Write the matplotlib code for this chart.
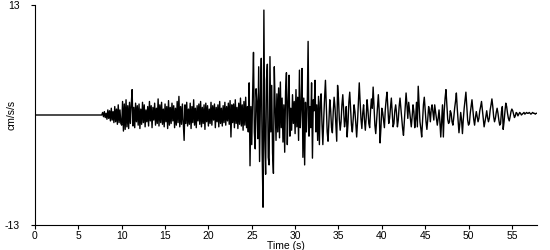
import numpy as np
import matplotlib
matplotlib.use("Agg")
import matplotlib.pyplot as plt

# record starts at t_start, one sample every dt seconds; before that the trace is flat
t_start = 7.7
dt = 0.1

# cm/s/s
onset = [0.0, 0.3, -0.2, 0.4, -0.3, 0.2, -0.5, 0.6, -0.4, 0.5, -0.7, 0.8,
         -0.6, 0.4, -0.9, 1.0, -0.8, 0.7, -1.1, 1.2, -0.9, 0.6, -1.0]

s_waves = [
    -1.2, 1.6, -1.9, 1.3, -1.7, 1.8, -1.4, 1.1, -1.6, 1.5,
    -1.0, 1.2, 3.0, -1.3, 0.9, -1.5, 1.4, -0.8, 1.1, -1.2,
    1.3, -1.6, 0.7, -1.1, 1.5, -0.9, 1.2, -1.4, 0.6, -0.8,
    1.0, -1.3, 1.6, -0.7, 1.1, -1.5, 0.9, -0.6, 1.4, -1.2,
    0.8, -1.0, 1.9, -1.3, 1.2, -0.9, 1.5, -1.1, 0.7, -1.4,
    1.3, -0.8, 1.0, -1.6, 1.7, -1.2, 0.9, -1.0, 1.4, -0.7,
    1.1, -1.5, 0.8, -1.2, 1.6, -0.9, 2.2, -1.4, 1.0, -1.1,
    1.3, -0.8, -3.0, 1.2, -1.0, 1.5, -1.3, 0.7, -1.1, 1.4,
    -1.6, 1.0, -0.9, 1.8, -1.2, 0.8, -1.5, 1.1, -0.7, 1.3,
    -1.1, 1.6, -1.4, 0.9, -1.0, 1.2, -1.7, 1.4, -0.8, 1.1,
    -1.3, 0.7, -1.0, 1.5, -1.2, 1.1, -0.6, 1.3, -1.5, 0.9,
    -0.8, 1.2, -1.4, 1.6, -1.0, 0.8, -1.3, 1.1, -0.9, 1.5,
    -1.2, 1.0, -0.7, 1.4, -1.1, 1.7, -2.6, 1.2, -0.9, 1.3,
    -1.5, 1.8, -1.0, 0.9, -1.6, 1.4, -1.1, 2.0, -1.3, 1.2,
    -1.8, 1.6, -1.2, 2.1, -1.5, 1.0, -2.0, 3.8, -6.0, 1.0,
]

main_shock = [
    -3.5, 2.4, 7.4, -2.0, -4.0, 3.1, 1.5, -2.8, 5.7, -5.5,
    2.0, 6.7, -4.5, -10.9, 12.4, -3.0, -7.0, 4.2, 6.0, -5.0,
    -5.9, 6.9, -2.0, 3.5, -4.5, -6.9, 5.7, 1.0, -3.0, 2.5,
    -2.0, 3.2, -2.7, 3.9, -1.5, 2.0, -3.2, 1.2, -4.4, 2.8,
    5.0, -3.5, 1.5, 4.7, -2.5, 0.8, -1.8, 2.4, -1.0, 1.6,
    -2.2, 3.0, -1.4, 2.1, -3.0, 5.3, -1.5, 1.0, 5.5, -5.0,
    2.0, -5.9, 1.5, -2.0, 0.9, 8.7, -2.5, 1.0, -1.5, 3.8,
    -5.1, 1.8, 0.5, 4.1, -2.0, 1.2, -3.0, 2.2, -3.5, 1.5,
]

coda = [
    2.5, -1.0, -3.5, -0.5, 2.0, 4.1, 1.0, -2.0, -3.1, -0.8,
    1.8, 0.6, -1.5, -2.1, 0.4, 2.1, 0.9, -1.2, -3.1, 3.5,
    2.0, -0.5, -1.8, -0.8, 1.2, 2.4, 0.6, -1.4, -0.6, 1.0,
    -2.6, -1.0, 1.5, 2.7, 0.8, -1.2, -2.0, -0.5, 1.2, 0.4,
    -1.0, -2.6, -0.8, 1.5, 3.8, 1.5, -0.5, -1.6, 0.2, 1.2,
    -0.6, -1.8, -0.3, 1.8, 0.6, -1.0, -1.5, 0.5, 1.9, 0.8,
    3.3, 1.0, -1.2, -2.2, -0.6, 1.2, 2.4, 0.5, -3.3, -1.5,
    0.8, 0.3, -0.6, -1.5, 0.6, 1.8, 2.7, 0.8, -1.0, -0.4,
    0.9, 2.0, 0.4, -1.4, -1.0, 0.5, 1.2, 0.2, -1.4, -0.6,
    1.0, 2.0, 0.8, -0.5, -1.6, -2.4, -0.8, 1.0, 2.6, 1.2,
    -0.4, 1.5, 0.5, -0.6, -1.4, -0.2, 1.2, 0.4, -1.5, -0.5,
    1.5, -1.4, 3.4, 1.2, -0.8, -1.6, -2.6, -0.7, 1.2, 2.1,
    0.6, -0.8, -1.7, -0.5, 1.0, 0.4, -0.8, 0.7, 1.2, 0.3,
    -0.6, 1.2, 0.4, -0.5, -1.2, -0.4, 0.6, -0.8, -2.6, -0.6,
    1.2, -2.6, 0.5, 2.0, 3.0, 1.2, -0.5, -1.0, -0.8, 0.5,
    0.2, -0.8, -1.2, -0.3, 0.8, 1.6, 2.6, 0.8, -0.6, -2.1,
    -1.0, 0.3, -0.6, -2.2, -0.5, 0.8, 1.8, 2.7, 1.0, -0.6,
    -1.2, -1.0, 0.2, 1.0, 1.8, 0.6, -0.5, -1.2, -0.3, 0.4,
    -0.2, -0.8, -0.4, 0.5, 1.0, 1.6, 0.6, -0.4, -1.4, -0.8,
    -0.2, 0.5, -0.3, -0.8, -0.4, 0.6, 1.2, 1.9, 1.0, -0.2,
    -0.8, -0.4, 0.3, 0.8, 0.2, -0.6, -1.2, -1.0, 0.4, 1.0,
    -1.7, -0.8, 0.4, 1.4, 1.0, 0.2, -0.4, -0.7, -0.2, 0.4,
    0.7, 0.5, 0.1, -0.3, -0.1, 0.3, 0.2, -0.1, 0.1, 0.3,
    0.2, 0.0, 0.1, 0.2, 0.3, 0.1, 0.2, 0.3, 0.2, 0.2,
    0.3, 0.2, 0.1, 0.2, 0.3, 0.2, 0.2, 0.1, 0.2, 0.2,
]

x_ticks = [0, 5, 10, 15, 20, 25, 30, 35, 40, 45, 50, 55]
y_lim = 13

accel = np.array(onset + s_waves + main_shock + coda)
time = t_start + dt * np.arange(len(accel))
# flat pre-event part from t=0
time = np.concatenate([[0.0], time])
accel = np.concatenate([[0.0], accel])

plt.rcParams['font.family'] = ['Liberation Sans', 'DejaVu Sans']
plt.rcParams['axes.unicode_minus'] = False

fig = plt.figure(figsize=(5.5, 2.5), dpi=100)
ax = fig.add_axes([35 / 550, 25 / 250, 502 / 550, 220 / 250])

ax.plot(time, accel, color='black', lw=1.0)

ax.set_xlim(0, time[-1])
ax.set_ylim(-y_lim, y_lim)
ax.set_xticks(x_ticks)
ax.set_yticks([-y_lim, y_lim])
ax.tick_params(labelsize=7.5, length=3, width=0.8, pad=1.5, colors='black')
ax.tick_params(axis='y', pad=8)
ax.set_xlabel('Time (s)', fontsize=7.5, labelpad=0)
ax.set_ylabel('cm/s/s', fontsize=7.5)
ax.yaxis.set_label_coords(-0.036, 0.5)

for side in ['top', 'right']:
    ax.spines[side].set_visible(False)
for side in ['left', 'bottom']:
    ax.spines[side].set_linewidth(0.8)

fig.savefig('out.png', dpi=100)
